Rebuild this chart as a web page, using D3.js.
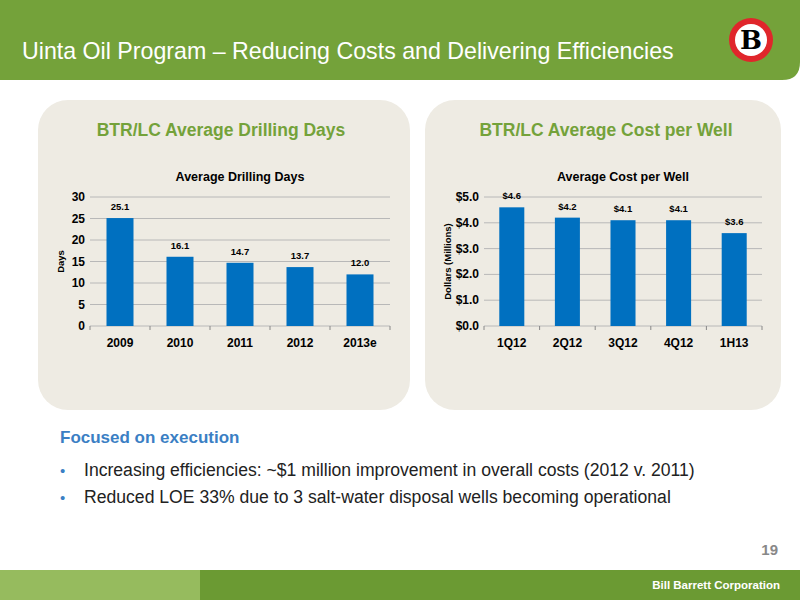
<!DOCTYPE html><html><head><meta charset="utf-8"><script src="https://cdn.jsdelivr.net/npm/d3@7"></script>
<style>body{margin:0}svg{font-family:"Liberation Sans",Arial,sans-serif}</style></head><body><svg width="800" height="600"></svg>
<script>
const years=["2009","2010","2011","2012","2013e"];
const days=[25.1,16.1,14.7,13.7,12.0];
const dayTicks=[0,5,10,15,20,25,30];
const quarters=["1Q12","2Q12","3Q12","4Q12","1H13"];
const cost=[4.6,4.2,4.1,4.1,3.6];
const costTicks=[0,1,2,3,4,5];
const svg=d3.select("svg");
svg.append("rect").attr("width",800).attr("height",600).attr("fill","#fff");
svg.append("path").attr("d","M0,0H800V62Q800,80 782,80H0Z").attr("fill","#74a23a");
svg.append("text").attr("x",22).attr("y",59).attr("fill","#fff").attr("font-size",23.2).text("Uinta Oil Program – Reducing Costs and Delivering Efficiencies");
const lg=svg.append("g").attr("transform","translate(751,40)");
lg.append("circle").attr("r",22).attr("fill","#e0262b");
lg.append("circle").attr("r",16).attr("fill","#fff");
lg.append("text").attr("text-anchor","middle").attr("y",9).attr("font-size",26).attr("font-weight","bold").attr("font-family","DejaVu Serif").text("B");
svg.append("rect").attr("x",38).attr("y",100).attr("width",372).attr("height",310).attr("rx",30).attr("fill","#eeebe3");
svg.append("rect").attr("x",425).attr("y",100).attr("width",356).attr("height",310).attr("rx",30).attr("fill","#eeebe3");
svg.append("text").attr("x",221).attr("y",136).attr("text-anchor","middle").attr("fill","#74a23a").attr("font-size",17.5).attr("font-weight","bold").text("BTR/LC Average Drilling Days");
svg.append("text").attr("x",606).attr("y",136).attr("text-anchor","middle").attr("fill","#74a23a").attr("font-size",17.5).attr("font-weight","bold").text("BTR/LC Average Cost per Well");
function chart(cats,vals,ticks,x0,x1,max,title,ylabel,fmt,lfmt,yl){
 const x=d3.scaleBand().domain(cats).range([x0,x1]).paddingInner(0.55).paddingOuter(0.275);
 const y=d3.scaleLinear().domain([0,max]).range([326,197]);
 const g=svg.append("g");
 g.selectAll(".gl").data(ticks).join("line").attr("x1",x0).attr("x2",x1).attr("y1",d=>y(d)).attr("y2",d=>y(d)).attr("stroke","#b8b8b8");
 g.selectAll(".tl").data(ticks).join("text").attr("x",x0-5).attr("y",d=>y(d)+4).attr("text-anchor","end").attr("font-size",12).attr("font-weight","bold").text(fmt);
 g.selectAll(".b").data(vals).join("rect").attr("x",(d,i)=>x(cats[i])).attr("width",x.bandwidth()).attr("y",d=>y(d)).attr("height",d=>326-y(d)).attr("fill","#0070c0");
 g.selectAll(".v").data(vals).join("text").attr("x",(d,i)=>x(cats[i])+x.bandwidth()/2).attr("y",d=>y(d)-8).attr("text-anchor","middle").attr("font-size",9.5).attr("font-weight","bold").text(lfmt);
 g.selectAll(".c").data(cats).join("text").attr("x",d=>x(d)+x.bandwidth()/2).attr("y",347).attr("text-anchor","middle").attr("font-size",12).attr("font-weight","bold").text(d=>d);
 const step=(x1-x0)/cats.length;
 g.selectAll(".tk").data(d3.range(cats.length+1)).join("line").attr("x1",d=>x0+d*step).attr("x2",d=>x0+d*step).attr("y1",326).attr("y2",330).attr("stroke","#888");
 g.append("text").attr("x",(x0+x1)/2).attr("y",181).attr("text-anchor","middle").attr("font-size",12.5).attr("font-weight","bold").text(title);
 g.append("text").attr("transform",`translate(${yl},${(197+326)/2}) rotate(-90)`).attr("text-anchor","middle").attr("font-size",9.5).attr("font-weight","bold").text(ylabel);
}
chart(years,days,dayTicks,90,390,30,"Average Drilling Days","Days",d=>d,d=>d.toFixed(1),64);
chart(quarters,cost,costTicks,484,762,5,"Average Cost per Well","Dollars (Millions)",d=>"$"+d.toFixed(1),d=>"$"+d.toFixed(1),451);
svg.append("text").attr("x",60).attr("y",443).attr("fill","#3b7fc4").attr("font-size",17).attr("font-weight","bold").text("Focused on execution");
const bl=["Increasing efficiencies: ~$1 million improvement in overall costs (2012 v. 2011)","Reduced LOE 33% due to 3 salt-water disposal wells becoming operational"];
bl.forEach((t,i)=>{svg.append("text").attr("x",60).attr("y",476+i*27).attr("fill","#3b7fc4").attr("font-size",15).text("•");
svg.append("text").attr("x",84).attr("y",476+i*27).attr("fill","#222").attr("font-size",17.6).text(t);});
svg.append("text").attr("x",778).attr("y",555).attr("text-anchor","end").attr("fill","#888").attr("font-size",15).attr("font-weight","bold").text("19");
svg.append("rect").attr("y",570).attr("width",200).attr("height",30).attr("fill","#96bb5e");
svg.append("rect").attr("x",200).attr("y",570).attr("width",600).attr("height",30).attr("fill","#6b9a33");
svg.append("text").attr("x",780).attr("y",589).attr("text-anchor","end").attr("fill","#fff").attr("font-size",11.5).attr("font-weight","bold").text("Bill Barrett Corporation");
</script></body></html>
